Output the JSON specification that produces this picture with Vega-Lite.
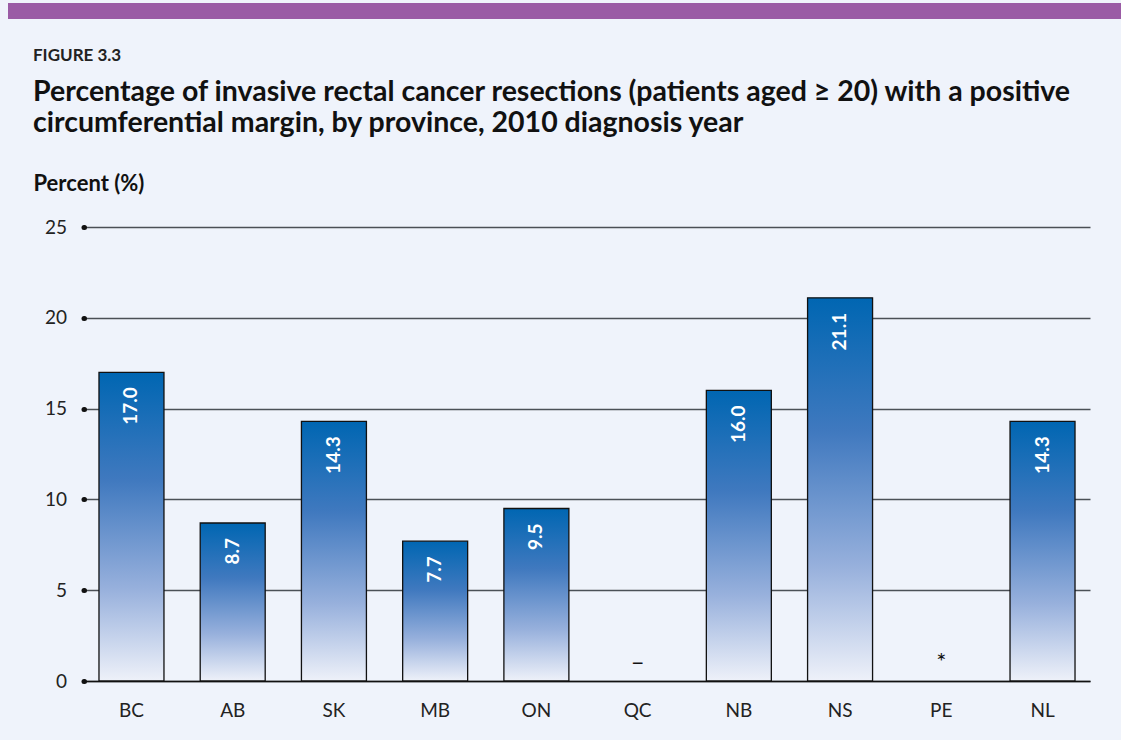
{
  "$schema": "https://vega.github.io/schema/vega-lite/v6.json",
  "background": "#eff3fb",
  "padding": {"left": 8, "top": 3, "right": 0, "bottom": 20},
  "columns": 1,
  "bounds": "flush",
  "spacing": 208,
  "config": {"view": {"stroke": null}, "font": "Lato"},
  "concat": [
    {
      "width": 1113,
      "height": 16,
      "view": {"fill": "#9a5ba5", "stroke": null},
      "data": {"values": [{}]},
      "mark": {"type": "text"},
      "encoding": {"text": {"value": ""}}
    },
    {
      "width": 1113,
      "height": 454,
      "title": {
        "text": "FIGURE 3.3",
        "subtitle": ["Percentage of invasive rectal cancer resections (patients aged ≥ 20) with a positive", "circumferential margin, by province, 2010 diagnosis year"],
        "anchor": "start",
        "frame": "group",
        "dx": 25,
        "offset": 34,
        "font": "Lato",
        "fontSize": 17,
        "fontWeight": "bold",
        "color": "#222222",
        "subtitleFont": "Lato",
        "subtitleFontSize": 28.5,
        "subtitleFontWeight": "bold",
        "subtitleColor": "#111111",
        "subtitlePadding": 13,
        "subtitleLineHeight": 31
      },
      "data": {"values": [
        {"province": "BC", "value": 17.0, "note": null},
        {"province": "AB", "value": 8.7, "note": null},
        {"province": "SK", "value": 14.3, "note": null},
        {"province": "MB", "value": 7.7, "note": null},
        {"province": "ON", "value": 9.5, "note": null},
        {"province": "QC", "value": null, "note": "–"},
        {"province": "NB", "value": 16.0, "note": null},
        {"province": "NS", "value": 21.1, "note": null},
        {"province": "PE", "value": null, "note": "*"},
        {"province": "NL", "value": 14.3, "note": null}
      ]},
      "encoding": {
        "x": {
          "field": "province",
          "type": "nominal",
          "sort": null,
          "scale": {
            "domain": ["BC", "AB", "SK", "MB", "ON", "QC", "NB", "NS", "PE", "NL"],
            "range": [76, 1082],
            "paddingInner": 0.358,
            "paddingOuter": 0.148
          },
          "axis": {
            "title": null,
            "labelAngle": 0,
            "labelFont": "Lato",
            "labelFontSize": 19,
            "labelColor": "#222222",
            "labelPadding": 20,
            "ticks": false,
            "domainColor": "#111111",
            "domainWidth": 1.5
          }
        }
      },
      "layer": [
        {
          "mark": {
            "type": "bar",
            "stroke": "#111111",
            "strokeWidth": 1.3,
            "fill": {
              "gradient": "linear",
              "x1": 0, "y1": 0, "x2": 0, "y2": 1,
              "stops": [
                {"offset": 0, "color": "#0066b2"},
                {"offset": 0.35, "color": "#4079bf"},
                {"offset": 0.7, "color": "#97b0dc"},
                {"offset": 1, "color": "#eef1f9"}
              ]
            }
          },
          "encoding": {
            "y": {
              "field": "value",
              "type": "quantitative",
              "scale": {"domain": [0, 25], "nice": false},
              "axis": {
                "values": [0, 5, 10, 15, 20, 25],
                "offset": -76,
                "title": "Percent (%)",
                "titleX": -51,
                "titleY": -37,
                "titleAngle": 0,
                "titleAlign": "left",
                "titleBaseline": "alphabetic",
                "titleFont": "Lato",
                "titleFontSize": 22,
                "titleFontWeight": "bold",
                "titleColor": "#111111",
                "labelFont": "Lato",
                "labelFontSize": 19,
                "labelColor": "#222222",
                "labelPadding": 17,
                "tickSize": 0.5,
                "tickWidth": 5,
                "tickCap": "round",
                "tickColor": "#111111",
                "domain": false,
                "grid": true,
                "gridColor": "#4b5056",
                "gridWidth": 1.5
              }
            }
          }
        },
        {
          "mark": {
            "type": "text",
            "angle": 270,
            "align": "right",
            "baseline": "middle",
            "dx": -15,
            "font": "Lato",
            "fontSize": 19,
            "fontWeight": "bold",
            "color": "white"
          },
          "encoding": {
            "y": {"field": "value", "type": "quantitative"},
            "text": {"field": "value", "type": "quantitative", "format": ".1f"}
          }
        },
        {
          "transform": [{"filter": "datum.note != null"}],
          "mark": {
            "type": "text",
            "baseline": "alphabetic",
            "dy": -11,
            "font": "Lato",
            "fontSize": 24,
            "color": "#111111"
          },
          "encoding": {
            "y": {"datum": 0},
            "text": {"field": "note", "type": "nominal"}
          }
        }
      ]
    }
  ]
}
